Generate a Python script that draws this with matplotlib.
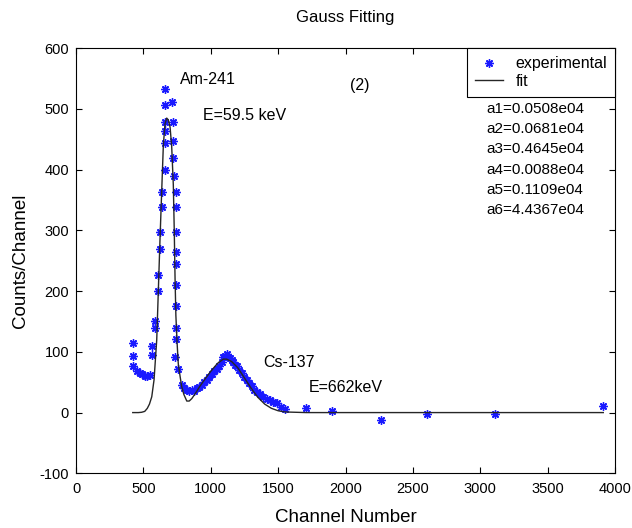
import matplotlib
matplotlib.use("Agg")
import matplotlib.pyplot as plt

plt.rcParams["font.family"] = ["Liberation Sans", "DejaVu Sans"]
plt.rcParams["axes.unicode_minus"] = False

# experimental points (channel, counts)
exp_x = [
    421, 421, 421, 455, 475, 493, 512, 530, 549, 562, 562, 586, 586,
    612, 612, 623, 623, 636, 636, 662, 662, 662, 662, 662, 662,
    710, 717, 722, 722, 727, 742, 742, 742, 742, 742, 742, 742, 742, 742,
    735, 759, 784,
    805, 822, 840, 859, 878, 896, 915, 933, 952, 970, 989, 1007, 1026,
    1044, 1063, 1081, 1093, 1105, 1118, 1130, 1142, 1155, 1167, 1180,
    1193, 1211, 1230, 1248, 1267, 1285, 1304, 1322, 1341, 1365, 1390,
    1415, 1440, 1465, 1489, 1520, 1551, 1707, 1902, 2261, 2603, 3109, 3913,
]
exp_y = [
    115, 93, 76, 69, 65, 63, 60, 60, 62, 110, 95, 151, 139,
    226, 201, 298, 269, 364, 339, 400, 444, 463, 479, 507, 533,
    511, 479, 448, 420, 390, 364, 339, 298, 265, 245, 210, 175, 140, 121,
    92, 71, 45,
    41, 38, 36, 37, 35, 40, 42, 46, 50, 54, 59, 64, 68,
    72, 77, 84, 91, 93, 96, 92, 90, 87, 83, 79,
    76, 70, 65, 59, 54, 48, 43, 38, 34, 30, 26,
    23, 21, 17, 15, 9, 6, 7, 2, -13, -3, -3, 11,
]

# fitted curve (channel, counts) as drawn
fit_x = [
    421, 462, 487, 510, 529, 545, 562, 579, 599, 611, 623, 636, 648, 660,
    673, 685, 698, 710, 722, 729, 735, 741, 750, 759, 772, 784, 800, 822,
    840, 859, 878, 896, 915, 950, 1000, 1050, 1093, 1118, 1155, 1200, 1250,
    1300, 1350, 1400, 1450, 1500, 1551, 1707, 1902, 2261, 2603, 3109, 3913,
]
fit_y = [
    0, 0, 0.5, 2, 7, 14, 26, 54, 120, 202, 284, 366, 440, 475,
    485, 482, 470, 438, 375, 300, 220, 160, 115, 80, 60, 43, 30, 19,
    19, 23, 29, 35, 42, 53, 68, 81, 88, 88, 84, 74, 57,
    40, 25, 14, 7, 3, 1, 0, 0, 0, 0, 0, 0,
]

params = ["a1=0.0508e04", "a2=0.0681e04", "a3=0.4645e04",
          "a4=0.0088e04", "a5=0.1109e04", "a6=4.4367e04"]

fig = plt.figure(figsize=(6.32, 5.28), dpi=100)
ax = fig.add_axes([0.1203, 0.1036, 0.8528, 0.805])

ax.plot(exp_x, exp_y, linestyle="none", marker=(8, 2, 0), markersize=6,
        markeredgewidth=1.0, color="#1a1aff", label="experimental")
ax.plot(fit_x, fit_y, color="#262626", linewidth=1.0, label="fit")

ax.set_xlim(0, 4000)
ax.set_ylim(-100, 600)
ax.set_xticks(range(0, 4001, 500))
ax.set_yticks(range(-100, 601, 100))
ax.tick_params(direction="in", length=4, top=True, right=True, labelsize=10.5)
ax.tick_params(axis="x", pad=6)
ax.tick_params(axis="y", pad=5)
for s in ax.spines.values():
    s.set_linewidth(0.8)

ax.set_title("Gauss Fitting", fontsize=12, pad=19)
ax.set_xlabel("Channel Number", fontsize=13.5)
ax.set_ylabel("Counts/Channel", fontsize=13.5)
ax.xaxis.set_label_coords(0.5, -0.084)
ax.yaxis.set_label_coords(-0.087, 0.5)

ax.text(772, 548, "Am-241", fontsize=11.5, va="center")
ax.text(942, 490, "E=59.5 keV", fontsize=11.5, va="center")
ax.text(2033, 538, "(2)", fontsize=11.5, va="center")
ax.text(1388, 83, "Cs-137", fontsize=11.5, va="center")
ax.text(1729, 42, "E=662keV", fontsize=11.5, va="center")
for i, p in enumerate(params):
    ax.text(3043, 500 - 33.3 * i, p, fontsize=11, va="center")

leg = ax.legend(loc="upper right", borderaxespad=0, fontsize=11.5, fancybox=False,
                framealpha=1, edgecolor="black", handlelength=1.75,
                handletextpad=0.75, borderpad=0.5, labelspacing=0.15)
leg.get_frame().set_linewidth(0.8)

fig.savefig("out.png", dpi=100)
